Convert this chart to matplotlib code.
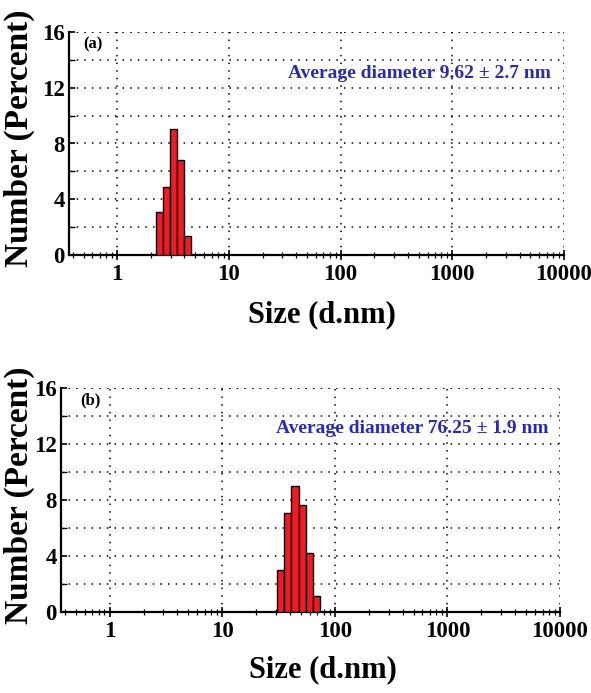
import numpy as np
import matplotlib
matplotlib.use("Agg")
import matplotlib.pyplot as plt
from matplotlib.ticker import LogLocator, FixedLocator, NullFormatter

# size class edges (d.nm) and number % per class
edges_a = [2.22, 2.56, 2.98, 3.46, 4.00, 4.57]
number_a = [3.1, 4.9, 9.05, 6.8, 1.36]
edges_b = [30.7, 35.4, 41.2, 48.2, 55.6, 64.1, 74.6]
number_b = [3.0, 7.1, 9.0, 7.65, 4.25, 1.14]

labels = ["(a)", "(b)"]
notes = ["Average diameter 9.62 \u00b1 2.7 nm", "Average diameter 76.25 \u00b1 1.9 nm"]
xticks = [1, 10, 100, 1000, 10000]
yticks = [0, 4, 8, 12, 16]

W, H = 591, 693
plt.rcParams["font.family"] = ["Liberation Serif", "DejaVu Serif"]
plt.rcParams["font.weight"] = "bold"
fig = plt.figure(figsize=(W / 100, H / 100), dpi=100)

# axes boxes in pixels: left, top, right, bottom
boxes = [(69, 32, 564, 255), (61, 388, 560, 612)]
ylab_pos = [(19, 138), (19, 495)]
xlab_pos = [(322, 315), (323, 670)]
note_pos = [(0.442, 0.816), (0.431, 0.817)]
lab_pos = [(0.028, 0.945), (0.038, 0.945)]

data = [(edges_a, number_a), (edges_b, number_b)]
blue = "#2a2ab4"
dots = (0, (1, 4))

for i, (edges, vals) in enumerate(data):
    l, t, r, b = boxes[i]
    ax = fig.add_axes([l / W, 1 - b / H, (r - l) / W, (b - t) / H])
    ax.set_xscale("log")
    e = np.array(edges)
    ax.bar(e[:-1], vals, width=np.diff(e), align="edge",
           color="#ee1c24", edgecolor="black", linewidth=1.0, zorder=3)
    ax.set_xlim(0.37, 10000)
    ax.set_ylim(0, 16)

    ax.xaxis.set_major_locator(FixedLocator(xticks))
    ax.xaxis.set_minor_locator(LogLocator(base=10, subs=np.arange(2, 10)))
    ax.xaxis.set_minor_formatter(NullFormatter())
    ax.set_xticklabels([str(v) for v in xticks])
    ax.set_yticks(yticks)
    ax.set_yticks(np.arange(2, 16, 4), minor=True)

    ax.grid(True, which="major", axis="x", color="black", linestyle=dots, linewidth=1.1)
    ax.grid(True, which="both", axis="y", color="black", linestyle=dots, linewidth=1.1)
    ax.axhline(16, color="black", linestyle=dots, linewidth=1.1)
    ax.set_axisbelow(True)

    for s in ["top", "right"]:
        ax.spines[s].set_visible(False)
    for s in ["left", "bottom"]:
        ax.spines[s].set_linewidth(1.6)

    ax.tick_params(axis="x", which="major", direction="inout", length=7, width=1.2,
                   labelsize=16.5, pad=3)
    ax.tick_params(axis="x", which="minor", direction="inout", length=5, width=0.9)
    ax.tick_params(axis="y", which="major", direction="in", length=4, width=1.2,
                   labelsize=16.5, pad=3)
    ax.tick_params(axis="y", which="minor", direction="in", length=4, width=1.0)

    ax.text(note_pos[i][0], note_pos[i][1], notes[i], transform=ax.transAxes,
            ha="left", va="center", fontsize=14, color=blue, fontweight="bold")
    ax.text(lab_pos[i][0], lab_pos[i][1], labels[i], transform=ax.transAxes,
            ha="left", va="center", fontsize=12, fontweight="bold")

    fig.text(ylab_pos[i][0] / W, 1 - ylab_pos[i][1] / H, "Number (Percent)",
             rotation=90, ha="center", va="center", fontsize=24, fontweight="bold")
    fig.text(xlab_pos[i][0] / W, 1 - xlab_pos[i][1] / H, "Size (d.nm)",
             ha="center", va="center", fontsize=22, fontweight="bold")

fig.savefig("out.png", dpi=100)
